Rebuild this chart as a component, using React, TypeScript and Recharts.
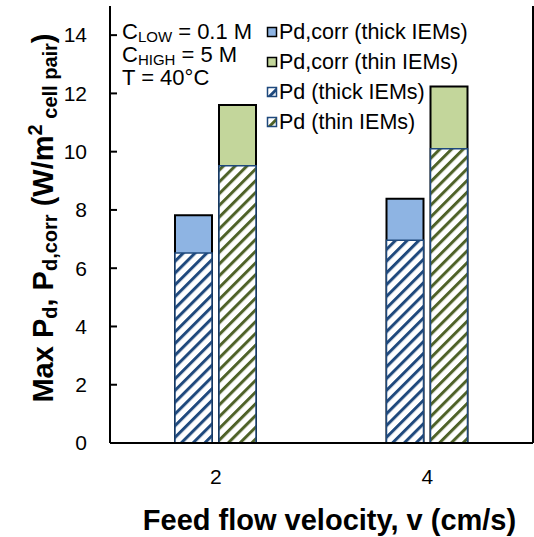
import { Bar, BarChart, Customized, Legend, XAxis, YAxis } from 'recharts'

const velocities = ['2', '4']
const pdThick = [6.52, 6.96]
const pdThin = [9.52, 10.1]
const pdCorrThick = [7.82, 8.38]
const pdCorrThin = [11.6, 12.24]
const yTicks = [0, 2, 4, 6, 8, 10, 12, 14]

const data = velocities.map((v, i) => ({
  v,
  pdThick: pdThick[i],
  pdThin: pdThin[i],
  pdCorrThick: pdCorrThick[i],
  pdCorrThin: pdCorrThin[i],
}))

const legendOrder = ['Pd,corr (thick IEMs)', 'Pd,corr (thin IEMs)', 'Pd (thick IEMs)', 'Pd (thin IEMs)']

const FONT = '"Liberation Sans", Arial, sans-serif'
const BLUE_DARK = '#1F497D'
const GREEN_DARK = '#4F6228'
const BLUE_LIGHT = '#8EB4E3'
const GREEN_LIGHT = '#C3D69B'

function LeftTick({ x, y, payload }: any) {
  // labels sit outside, tick marks point into the plot
  return (
    <g>
      <line x1={x + 23} x2={x + 30} y1={y} y2={y} stroke="#000" strokeWidth={2} />
      <text x={x} y={y} dy="0.35em" textAnchor="end" fontFamily={FONT} fontSize={21} fill="#000">
        {payload.value}
      </text>
    </g>
  )
}

function RightTick({ x, y }: any) {
  return <line x1={x - 7} x2={x} y1={y} y2={y} stroke="#000" strokeWidth={2} />
}

function LegendContent({ payload }: any) {
  const items = [...(payload ?? [])].sort(
    (a: any, b: any) => legendOrder.indexOf(a.value) - legendOrder.indexOf(b.value),
  )
  return (
    <div style={{ fontFamily: FONT, fontSize: '21.5px', color: '#000', lineHeight: '30px' }}>
      {items.map((entry: any) => (
        <div key={entry.value} style={{ display: 'flex', alignItems: 'center', height: 30, whiteSpace: 'nowrap' }}>
          <svg width={12} height={12} style={{ marginRight: 1, flex: 'none' }}>
            <rect
              x={1.5}
              y={1.5}
              width={9}
              height={9}
              fill={entry.payload?.fill ?? entry.color}
              stroke={entry.payload?.stroke ?? '#000'}
              strokeWidth={1.5}
            />
          </svg>
          <span style={{ fontSize: '21.5px', fontFamily: FONT }}>{entry.value}</span>
        </div>
      ))}
    </div>
  )
}

function Conditions() {
  return (
    <g fontFamily={FONT} fontSize={22} fill="#000">
      <text x={122} y={39}>
        C<tspan fontSize={15} dy={3}>LOW</tspan>
        <tspan dy={-3}> = 0.1 M</tspan>
      </text>
      <text x={122} y={62}>
        C<tspan fontSize={15} dy={3}>HIGH</tspan>
        <tspan dy={-3}> = 5 M</tspan>
      </text>
      <text x={122} y={85}>T = 40°C</text>
    </g>
  )
}

function YTitle() {
  return (
    <text
      x={53}
      y={218}
      transform="rotate(-90, 53, 218)"
      textAnchor="middle"
      fontFamily={FONT}
      fontSize={29}
      fontWeight="bold"
      fill="#000"
    >
      Max P<tspan fontSize={20} dy={4}>d</tspan>
      <tspan dy={-4}>, P</tspan>
      <tspan fontSize={20} dy={4}>d,corr</tspan>
      <tspan dy={-4}> (W/m</tspan>
      <tspan fontSize={20} dy={-11}>2</tspan>
      <tspan fontSize={20} dy={15}> cell pair</tspan>
      <tspan dy={-4}>)</tspan>
    </text>
  )
}

export default function App() {
  return (
    <div style={{ position: 'absolute', left: 0, top: 0, width: 534, height: 537, background: '#fff' }}>
      <BarChart
        width={534}
        height={537}
        data={data}
        margin={{ top: 6, right: 0, bottom: 0, left: 0 }}
        barGap={7}
      >
        <defs>
          <pattern id="hatchBlue" patternUnits="userSpaceOnUse" width={8.3} height={8.3} patternTransform="rotate(45)">
            <rect width={8.3} height={8.3} fill="#fff" />
            <rect width={3} height={8.3} fill={BLUE_DARK} />
          </pattern>
          <pattern id="hatchGreen" patternUnits="userSpaceOnUse" width={8.3} height={8.3} patternTransform="rotate(45)">
            <rect width={8.3} height={8.3} fill="#fff" />
            <rect width={3} height={8.3} fill={GREEN_DARK} />
          </pattern>
        </defs>

        <XAxis
          dataKey="v"
          height={94}
          tickLine={false}
          tickSize={0}
          tickMargin={26}
          axisLine={{ stroke: '#000', strokeWidth: 2 }}
          tick={{ fill: '#000', fontSize: 21, fontFamily: FONT }}
          label={{
            value: 'Feed flow velocity, v (cm/s)',
            position: 'insideBottom',
            offset: 7,
            dx: 8,
            style: { fill: '#000', fontSize: 29, fontWeight: 'bold', fontFamily: FONT },
          }}
        />
        <XAxis xAxisId="pd" dataKey="v" hide />
        <XAxis
          xAxisId="top"
          orientation="top"
          dataKey="v"
          height={0}
          tick={false}
          tickLine={false}
          axisLine={{ stroke: '#000', strokeWidth: 2 }}
        />
        <YAxis
          domain={[0, 15]}
          ticks={yTicks}
          width={110}
          tickSize={0}
          tickMargin={23}
          tickLine={false}
          axisLine={{ stroke: '#000', strokeWidth: 2 }}
          tick={<LeftTick />}
        />
        <YAxis
          yAxisId="right"
          orientation="right"
          domain={[0, 15]}
          ticks={yTicks}
          width={1}
          tickSize={0}
          tickMargin={0}
          tickLine={false}
          axisLine={{ stroke: '#000', strokeWidth: 2 }}
          tick={<RightTick />}
        />

        <Bar dataKey="pdCorrThick" name="Pd,corr (thick IEMs)" fill={BLUE_LIGHT} stroke="#000" strokeWidth={2} barSize={37} isAnimationActive={false} />
        <Bar dataKey="pdCorrThin" name="Pd,corr (thin IEMs)" fill={GREEN_LIGHT} stroke="#000" strokeWidth={2} barSize={37} isAnimationActive={false} />
        <Bar xAxisId="pd" dataKey="pdThick" name="Pd (thick IEMs)" fill="url(#hatchBlue)" stroke={BLUE_DARK} strokeWidth={1.5} barSize={37} isAnimationActive={false} />
        <Bar xAxisId="pd" dataKey="pdThin" name="Pd (thin IEMs)" fill="url(#hatchGreen)" stroke={BLUE_DARK} strokeWidth={1.5} barSize={37} isAnimationActive={false} />

        <Legend
          layout="horizontal"
          verticalAlign="middle"
          align="center"
          content={<LegendContent />}
          wrapperStyle={{ position: 'absolute', left: 266, top: 17, width: 'auto', height: 'auto' }}
        />
        <Customized component={<Conditions />} />
        <Customized component={<YTitle />} />
      </BarChart>
    </div>
  )
}
